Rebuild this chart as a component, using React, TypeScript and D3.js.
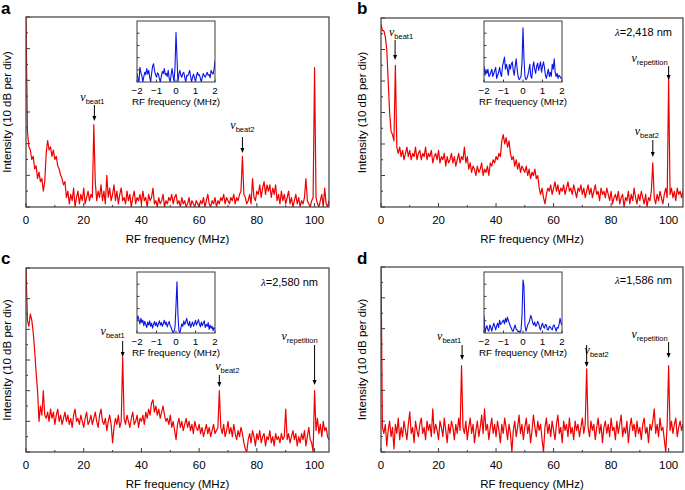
import React from "react";
import * as d3 from "d3";

// RF spectra, dB above the floor, sampled every 0.5 MHz from 0 to 105 MHz
const STEP = 0.5;
const specA = [
  60, 24, 19, 18, 15, 16, 12, 13, 9, 11, 8, 9, 5, 8, 17, 21, 18, 19, 16, 18,
  15, 16, 13, 12, 10, 9, 7, 8, 3, 5, 1, 4, 2, 6, 0, 3, 5, 1, 4, 2,
  6, 1, 3, 5, 2, 4, 3, 26, 8, 2, 5, 3, 7, 2, 5, 1, 10, 3, 6, 2,
  4, 7, 2, 5, 1, 4, 6, 2, 3, 1, 5, 2, 4, 0, 3, 5, 1, 3, 2, 4,
  1, 5, 2, 3, 0, 4, 2, 3, 6, 1, 2, 0, 3, 1, 2, 4, 0, 2, 1, 3,
  2, 4, 1, 3, 4, 1, 2, 0, 3, 1, 2, 0, 1, 3, 0, 2, 1, 0, 2, 1,
  0, 2, 1, 3, 0, 2, 4, 1, 0, 2, 1, 3, 0, 2, 1, 3, 2, 4, 1, 3,
  2, 1, 3, 2, 4, 1, 3, 2, 4, 5, 16, 4, 3, 1, 2, 4, 1, 9, 3, 2,
  5, 4, 7, 3, 6, 8, 4, 7, 5, 7, 3, 6, 4, 7, 2, 4, 1, 5, 2, 4,
  1, 3, 5, 1, 3, 0, 2, 4, 1, 3, 0, 2, 1, 3, 9, 2, 1, 0, 2, 3,
  44, 3, 1, 0, 2, 4, 0, 6, 1, 0, 2,
];
const specB = [
  58, 56, 56, 54, 50, 40, 30, 24, 23, 21, 45, 19, 17, 19, 16, 18, 15, 17, 19, 16,
  18, 15, 17, 16, 19, 15, 17, 18, 15, 17, 16, 19, 15, 17, 16, 18, 14, 16, 17, 15,
  18, 14, 16, 15, 17, 13, 16, 14, 15, 17, 14, 16, 13, 15, 17, 14, 16, 15, 19, 14,
  16, 12, 14, 11, 13, 12, 10, 13, 11, 12, 14, 10, 12, 11, 13, 10, 14, 13, 15, 14,
  16, 15, 17, 16, 21, 23, 20, 22, 19, 21, 17, 15, 16, 13, 15, 12, 14, 11, 13, 12,
  11, 13, 10, 12, 9, 11, 10, 12, 9, 10, 6, 4, 6, 3, 1, 4, 6, 5, 7, 4,
  6, 8, 5, 7, 4, 6, 5, 7, 4, 6, 8, 5, 6, 4, 7, 5, 3, 6, 5, 7,
  4, 6, 3, 5, 7, 4, 6, 3, 5, 7, 4, 5, 2, 6, 4, 5, 3, 6, 4, 2,
  5, 1, 3, 4, 2, 5, 1, 3, 4, 0, 3, 2, 5, 1, 4, 2, 6, 3, 1, 4,
  2, 5, 3, 1, 4, 0, 3, 2, 5, 14, 3, 1, 4, 2, 5, 3, 1, 4, 6, 3,
  41, 4, 6, 3, 5, 2, 6, 4, 5, 3, 5,
];
const specC = [
  60, 43, 41, 45, 43, 39, 33, 26, 20, 10, 15, 12, 20, 12, 11, 13, 10, 14, 11, 13,
  9, 12, 14, 10, 12, 9, 11, 13, 10, 12, 9, 11, 8, 12, 14, 10, 11, 9, 12, 10,
  8, 11, 13, 9, 10, 12, 9, 11, 13, 10, 8, 12, 14, 10, 9, 11, 7, 10, 12, 9,
  3, 8, 11, 9, 12, 8, 10, 31, 11, 9, 12, 10, 8, 11, 13, 9, 10, 12, 8, 11,
  10, 12, 9, 13, 11, 14, 12, 16, 17, 13, 15, 12, 14, 11, 13, 15, 12, 10, 11, 9,
  12, 8, 10, 7, 4, 9, 11, 8, 10, 7, 9, 11, 8, 10, 7, 9, 6, 10, 8, 7,
  9, 6, 8, 5, 7, 9, 6, 8, 5, 7, 9, 6, 7, 8, 20, 8, 6, 9, 5, 7,
  10, 6, 8, 5, 9, 6, 4, 7, 5, 8, 6, 3, 1, 0, 4, 6, 3, 7, 5, 2,
  6, 4, 7, 3, 5, 6, 2, 5, 4, 7, 3, 5, 2, 6, 4, 5, 3, 6, 4, 5,
  14, 4, 6, 3, 5, 7, 4, 6, 2, 5, 3, 6, 4, 7, 2, 5, 8, 4, 3, 0,
  20, 7, 11, 6, 9, 5, 10, 7, 8, 5, 4,
];
const specD = [
  60, 8, 6, 9, 2, 7, 10, 5, 8, 1, 9, 6, 11, 4, 8, 5, 10, 7, 4, 9,
  13, 6, 8, 3, 10, 7, 5, 9, 11, 6, 8, 4, 10, 7, 9, 5, 14, 6, 9, 7,
  4, 10, 8, 5, 11, 7, 3, 9, 6, 10, 8, 4, 9, 6, 11, 7, 28, 8, 6, 10,
  4, 8, 11, 6, 9, 3, 7, 10, 5, 8, 12, 6, 14, 7, 9, 4, 8, 11, 6, 9,
  5, 10, 7, 3, 9, 6, 11, 8, 4, 9, 6, 0, 7, 10, 5, 8, 12, 6, 9, 4,
  8, 11, 6, 9, 3, 7, 12, 8, 5, 10, 7, 9, 4, 0, 8, 11, 6, 9, 5, 10,
  7, 4, 9, 12, 6, 8, 3, 10, 7, 9, 5, 11, 6, 8, 4, 10, 7, 9, 5, 8,
  11, 6, 9, 27, 8, 5, 10, 7, 9, 4, 8, 11, 6, 9, 3, 8, 10, 6, 9, 5,
  11, 7, 8, 4, 10, 6, 9, 12, 5, 8, 6, 10, 3, 8, 11, 7, 9, 5, 10, 6,
  8, 4, 9, 11, 6, 8, 3, 9, 7, 10, 14, 6, 9, 5, 11, 7, 8, 4, 0, 9,
  28, 7, 10, 6, 9, 11, 5, 8, 10, 7, 9,
];

// inset spectra, relative level (0-100), every 0.05 MHz from -2 to 2 MHz
const INSET_STEP = 0.05;
const insetA = [
  14, 6, 0, 24, 15, 10, 0, 9, 16, 12, 22, 13, 19, 8, 0, 14, 26, 30, 18, 12,
  8, 15, 13, 5, 0, 10, 17, 14, 22, 12, 14, 9, 19, 6, 0, 12, 22, 10, 0, 25,
  81, 40, 0, 13, 19, 11, 8, 14, 16, 7, 0, 11, 10, 14, 19, 9, 0, 8, 13, 7,
  0, 10, 16, 11, 12, 6, 0, 8, 14, 10, 8, 12, 16, 11, 12, 7, 19, 15, 13, 20,
  35,
];
const insetB = [
  26, 11, 19, 14, 21, 9, 11, 16, 21, 9, 14, 19, 24, 6, 11, 16, 24, 14, 9, 26,
  33, 41, 21, 29, 21, 11, 29, 21, 29, 33, 19, 11, 26, 38, 21, 9, 4, 6, 9, 33,
  89, 38, 9, 4, 6, 11, 19, 29, 9, 6, 24, 33, 21, 14, 26, 31, 19, 26, 33, 16,
  26, 33, 24, 11, 6, 14, 21, 9, 16, 9, 29, 21, 38, 16, 9, 14, 6, 11, 9, 6,
  6,
];
const insetC = [
  20, 28, 22, 15, 24, 17, 21, 12, 19, 14, 9, 18, 13, 20, 11, 16, 8, 14, 19, 12,
  17, 10, 15, 20, 13, 17, 11, 16, 21, 14, 18, 10, 15, 19, 12, 9, 4, 0, 3, 10,
  45, 84, 30, 4, 0, 8, 15, 11, 20, 14, 18, 24, 16, 12, 19, 9, 14, 18, 11, 15,
  21, 13, 17, 22, 15, 10, 18, 12, 16, 20, 9, 14, 11, 17, 6, 13, 8, 11, 4, 9,
  6,
];
const insetD = [
  29, 0, 8, 12, 5, 3, 13, 9, 3, 10, 16, 11, 5, 12, 16, 9, 21, 14, 16, 19,
  21, 15, 24, 18, 26, 20, 16, 11, 8, 4, 3, 9, 13, 6, 5, 2, 3, 1, 5, 29,
  87, 76, 13, 3, 8, 14, 16, 22, 29, 24, 16, 13, 18, 11, 13, 19, 16, 9, 5, 12,
  16, 10, 8, 14, 13, 6, 5, 11, 10, 7, 5, 12, 13, 8, 3, 9, 8, 14, 24, 16,
  13,
];

// peak frequencies (MHz) that carry labels
const peaksA = [["beat1", 23.7], ["beat2", 75]];
const peaksB = [["beat1", 4.9], ["beat2", 94.5], ["repetition", 100]];
const peaksC = [["beat1", 33.5], ["beat2", 67], ["repetition", 100]];
const peaksD = [["beat1", 28.2], ["beat2", 71.5], ["repetition", 100]];
const wavelengths = [null, "2,418", "2,580", "1,586"];
const letters = ["a", "b", "c", "d"];
const xTicks = [0, 20, 40, 60, 80, 100];
const insetTicks = [-2, -1, 0, 1, 2];

const SANS = "'Liberation Sans', Arial, Helvetica, sans-serif";
const SERIF = "'Liberation Serif', 'Times New Roman', serif";
const RED = "#f00000";
const BLUE = "#0a14e6";
const FRAME = "#3c3c3c";

// per-panel layout: plot box, inset box, label placement [dx, baseline, arrowTop, arrowBottom]
const layouts = [
  { l: 26, r: 329, t: 17, b: 207, ix: 137, iy: 21, ir: 215, ib: 82, ly: 36, lx: 1, lt: 14,
    notes: [[-2, 101, 105, 121], [0, 129, 137, 153]] },
  { l: 381, r: 683, t: 18, b: 207, ix: 484, iy: 21, ir: 562, ib: 82, ly: 36, lx: 357, lt: 14,
    notes: [[6, 36, 40, 60], [-6, 135, 140, 157], [-19, 62, 66, 80]] },
  { l: 26, r: 329, t: 268, b: 452, ix: 137, iy: 272, ir: 215, ib: 333, ly: 286, lx: 1, lt: 264,
    notes: [[-10, 335, 341, 357], [8, 370, 375, 387], [-15, 340, 345, 385]] },
  { l: 381, r: 683, t: 267, b: 452, ix: 484, iy: 272, ir: 562, ib: 333, ly: 284, lx: 357, lt: 264,
    notes: [[-13, 340, 345, 360], [10, 354, 345, 367], [-19, 338, 342, 358]] },
];

const specs = [specA, specB, specC, specD];
const insets = [insetA, insetB, insetC, insetD];
const peaks = [peaksA, peaksB, peaksC, peaksD];

function Panel({ idx }: { idx: number }) {
  const L = layouts[idx];
  const spec = specs[idx];
  const ins = insets[idx];
  const x = d3.scaleLinear().domain([0, 105]).range([L.l, L.r]);
  const y = d3.scaleLinear().domain([0, 60]).range([L.b, L.t]);
  const line = d3
    .line<number>()
    .x((_, i) => x(i * STEP))
    .y((v) => y(v));
  const ixs = d3.scaleLinear().domain([-2, 2]).range([L.ix, L.ir]);
  const iys = d3.scaleLinear().domain([0, 100]).range([L.ib, L.iy]);
  const iline = d3
    .line<number>()
    .x((_, i) => ixs(-2 + i * INSET_STEP))
    .y((v) => iys(v));
  const yTicks = d3.range(0, 61, 5);
  const minorX = d3.range(10, 105, 20);
  const clipId = "clip" + idx;
  const iclipId = "iclip" + idx;
  const midY = (L.t + L.b) / 2;
  const lam = wavelengths[idx];

  return (
    <g>
      <defs>
        <clipPath id={clipId}>
          <rect x={L.l} y={L.t} width={L.r - L.l} height={L.b - L.t} />
        </clipPath>
        <clipPath id={iclipId}>
          <rect x={L.ix} y={L.iy} width={L.ir - L.ix} height={L.ib - L.iy} />
        </clipPath>
      </defs>
      <text x={L.lx} y={L.lt} fontFamily={SANS} fontWeight="bold" fontSize={17}>
        {letters[idx]}
      </text>
      <path d={line(spec) || ""} fill="none" stroke={RED} strokeWidth={1.2}
        strokeLinejoin="round" clipPath={`url(#${clipId})`} />
      <rect x={L.l} y={L.t} width={L.r - L.l} height={L.b - L.t}
        fill="none" stroke={FRAME} strokeWidth={1.2} />
      {yTicks.map((v, i) => (
        <line key={"yt" + i} x1={L.l} x2={L.l + (v % 10 === 0 ? 4 : 2)}
          y1={y(v)} y2={y(v)} stroke={FRAME} strokeWidth={1} />
      ))}
      {xTicks.map((v) => (
        <g key={"xt" + v}>
          <line x1={x(v)} x2={x(v)} y1={L.b} y2={L.b - 4} stroke={FRAME} />
          <text x={x(v)} y={L.b + 17} textAnchor="middle" fontFamily={SANS} fontSize={11.5}>
            {v}
          </text>
        </g>
      ))}
      {minorX.map((v) => (
        <line key={"mx" + v} x1={x(v)} x2={x(v)} y1={L.b} y2={L.b - 2} stroke={FRAME} />
      ))}
      <text x={(L.l + L.r) / 2} y={L.b + 36} textAnchor="middle" fontFamily={SANS} fontSize={11.5}>
        RF frequency (MHz)
      </text>
      <text transform={`translate(${L.l - 15},${midY}) rotate(-90)`} textAnchor="middle"
        fontFamily={SANS} fontSize={11.5}>
        Intensity (10 dB per div)
      </text>

      {/* inset */}
      <rect x={L.ix} y={L.iy} width={L.ir - L.ix} height={L.ib - L.iy} fill="#fff" />
      <path d={iline(ins) || ""} fill="none" stroke={BLUE} strokeWidth={1.1}
        strokeLinejoin="round" clipPath={`url(#${iclipId})`} />
      <rect x={L.ix} y={L.iy} width={L.ir - L.ix} height={L.ib - L.iy}
        fill="none" stroke={FRAME} strokeWidth={1} />
      {[20, 40, 60, 80].map((v) => (
        <line key={"iy" + v} x1={L.ix} x2={L.ix + 2.5} y1={iys(v)} y2={iys(v)} stroke={FRAME} />
      ))}
      {insetTicks.map((v) => (
        <g key={"ix" + v}>
          <line x1={ixs(v)} x2={ixs(v)} y1={L.ib} y2={L.ib - 2.5} stroke={FRAME} />
          <text x={ixs(v)} y={L.ib + 12} textAnchor="middle" fontFamily={SANS} fontSize={9.8}>
            {v < 0 ? "\u2212" + Math.abs(v) : v}
          </text>
        </g>
      ))}
      <text x={(L.ix + L.ir) / 2} y={L.ib + 23} textAnchor="middle" fontFamily={SANS} fontSize={9.8}>
        RF frequency (MHz)
      </text>

      {lam && (
        <text x={L.r - 11} y={L.ly} textAnchor="end" fontFamily={SANS} fontSize={11}>
          <tspan fontFamily={SERIF} fontStyle="italic">λ</tspan>={lam} nm
        </text>
      )}

      {peaks[idx].map(([name, f], i) => {
        const [dx, base, a1, a2] = L.notes[i];
        const px = x(f as number);
        return (
          <g key={"pk" + i}>
            <text x={px + dx} y={base} textAnchor="middle">
              <tspan fontFamily={SERIF} fontStyle="italic" fontSize={12}>ν</tspan>
              <tspan fontFamily={SANS} fontSize={7.5} dy={2.5}>{name as string}</tspan>
            </text>
            <line x1={px} x2={px} y1={a1} y2={a2 - 4} stroke="#000" strokeWidth={1} />
            <path d={`M${px - 2},${a2 - 5}L${px + 2},${a2 - 5}L${px},${a2}Z`} fill="#000" />
          </g>
        );
      })}
    </g>
  );
}

export default function App() {
  return (
    <svg width={685} height={490} style={{ position: "absolute", left: 0, top: 0, background: "#fff" }}>
      <rect width={685} height={490} fill="#fff" />
      {[0, 1, 2, 3].map((i) => (
        <Panel key={i} idx={i} />
      ))}
    </svg>
  );
}
